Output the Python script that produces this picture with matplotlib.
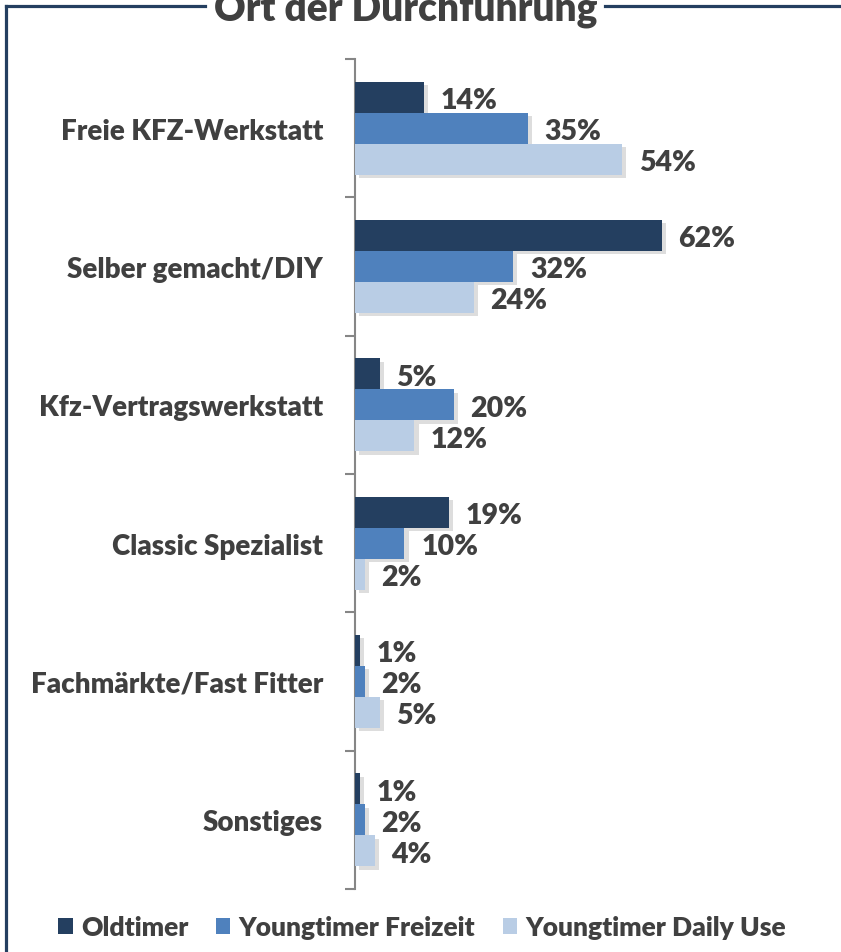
import numpy as np
import matplotlib.pyplot as plt
import matplotlib.patheffects as pe
from matplotlib.patches import Patch
from matplotlib.lines import Line2D

plt.rcParams['font.family'] = ['Lato', 'DejaVu Sans']
plt.rcParams['font.weight'] = 'heavy'

# data
categories = ["Freie KFZ-Werkstatt", "Selber gemacht/DIY", "Kfz-Vertragswerkstatt",
              "Classic Spezialist", "Fachmärkte/Fast Fitter", "Sonstiges"]
oldtimer = [14, 62, 5, 19, 1, 1]
yt_freizeit = [35, 32, 20, 10, 2, 2]
yt_daily = [54, 24, 12, 2, 5, 4]
series_names = ["Oldtimer", "Youngtimer Freizeit", "Youngtimer Daily Use"]
colors = ["#243F60", "#4F81BD", "#B9CDE5"]
txt = "#404040"
wt = 'heavy'

W, H = 841, 953
fig = plt.figure(figsize=(W / 100, H / 100), dpi=100)

ax = fig.add_axes([355 / W, (H - 890) / H, 445 / W, 830 / H])

y = np.arange(len(categories))
bh = 0.224
shadow = [pe.SimplePatchShadow(offset=(3, -2.5), shadow_rgbFace='#909090', alpha=0.3), pe.Normal()]
for i, (vals, c) in enumerate(zip([oldtimer, yt_freizeit, yt_daily], colors)):
    pos = y + (i - 1) * bh
    bars = ax.barh(pos, vals, height=bh, color=c, zorder=3)
    for b in bars:
        b.set_path_effects(shadow)
    for p, v in zip(pos, vals):
        ax.annotate(f"{v}%", (v, p), xytext=(12, -2), textcoords='offset points',
                    ha='left', va='center', fontsize=20.5, fontweight=wt, color=txt)

ax.set_xlim(0, 90)
ax.set_ylim(5.5, -0.5)
ax.set_xticks([])
for s in ['top', 'right', 'bottom']:
    ax.spines[s].set_visible(False)
ax.spines['left'].set_color('#868686')
ax.spines['left'].set_linewidth(1.5)
ax.set_yticks(np.arange(-0.5, 6, 1))
ax.set_yticklabels([])
ax.tick_params(axis='y', which='major', length=7, width=1.5, color='#868686')
ax.set_yticks(y, minor=True)
ax.set_yticklabels(categories, minor=True, fontsize=20, fontweight=wt, color=txt)
ax.tick_params(axis='y', which='minor', length=0, pad=23)

# legend
handles = [Patch(facecolor=c, edgecolor='none') for c in colors]
leg = fig.legend(handles, series_names, loc='center', bbox_to_anchor=(422 / W, (H - 928) / H),
                 ncol=3, frameon=False, prop={'size': 19, 'weight': wt},
                 handlelength=0.55, handleheight=0.55, handletextpad=0.3,
                 columnspacing=1.05, labelcolor=txt)

# frame with title cut at the top
fc = "#243F60"
fig.add_artist(Line2D([6 / W, 6 / W], [0, (H - 7) / H], color=fc, lw=2.3))
fig.add_artist(Line2D([6 / W, 205 / W], [(H - 7) / H] * 2, color=fc, lw=2.3))
fig.add_artist(Line2D([605 / W, 1], [(H - 7) / H] * 2, color=fc, lw=2.3))
fig.text(406 / W, (H - 20) / H, "Ort der Durchführung", ha='center', va='baseline',
         fontsize=28, fontweight=wt, color=txt)

plt.savefig('out.png', dpi=100)
